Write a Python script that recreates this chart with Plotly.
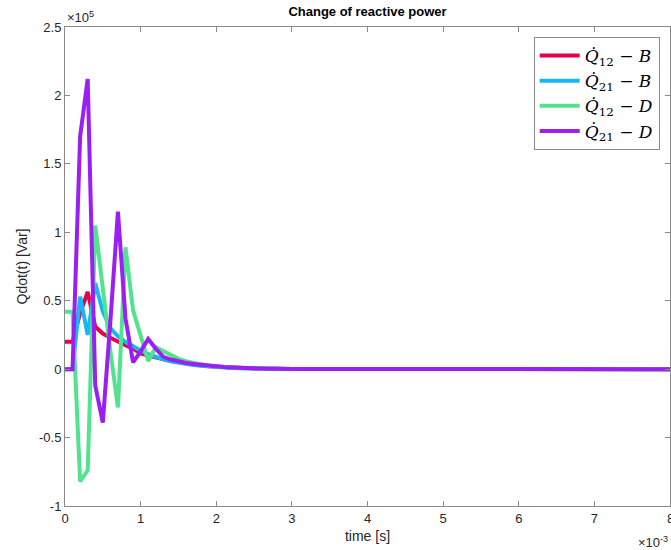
import plotly.graph_objects as go

# time in units of 1e-3 s, reactive power in units of 1e5 Var
t_ms = [0.0, 0.1, 0.2, 0.3, 0.4, 0.5, 0.6, 0.7, 0.8, 0.9, 1.0,
        1.1, 1.2, 1.3, 1.4, 1.5, 1.6, 1.7, 1.8, 1.9, 2.0,
        2.1, 2.2, 2.3, 2.4, 2.5, 2.6, 2.7, 2.8, 2.9, 3.0, 8.0]

q12_B = [0.20, 0.20, 0.41, 0.565, 0.31, 0.26, 0.23, 0.20, 0.175, 0.15, 0.115,
         0.10, 0.085, 0.072, 0.06, 0.05, 0.04, 0.033, 0.027, 0.022, 0.018,
         0.014, 0.011, 0.009, 0.007, 0.005, 0.004, 0.003, 0.002, 0.0015, 0.001, 0.0]

q21_B = [0.0, 0.0, 0.53, 0.25, 0.63, 0.42, 0.30, 0.24, 0.20, 0.165, 0.135,
         0.11, 0.09, 0.072, 0.058, 0.047, 0.038, 0.030, 0.024, 0.019, 0.015,
         0.012, 0.009, 0.007, 0.005, 0.004, 0.003, 0.002, 0.0015, 0.001, 0.0008, 0.0]

q12_D = [0.42, 0.42, -0.82, -0.74, 1.05, 0.57, 0.13, -0.28, 0.89, 0.43, 0.25,
         0.06, 0.16, 0.13, 0.10, 0.075, 0.058, 0.045, 0.035, 0.027, 0.020,
         0.015, 0.012, 0.009, 0.007, 0.005, 0.004, 0.003, 0.002, 0.0015, 0.001, 0.0]

q21_D = [0.0, 0.0, 1.70, 2.12, -0.12, -0.39, 0.35, 1.15, 0.37, 0.05, 0.13,
         0.22, 0.15, 0.09, 0.07, 0.055, 0.045, 0.037, 0.030, 0.024, 0.019,
         0.015, 0.012, 0.009, 0.007, 0.005, 0.004, 0.003, 0.002, 0.0015, 0.001, 0.0]

names = ["<i>Q̇</i><sub>12</sub> − <i>B</i>",
         "<i>Q̇</i><sub>21</sub> − <i>B</i>",
         "<i>Q̇</i><sub>12</sub> − <i>D</i>",
         "<i>Q̇</i><sub>21</sub> − <i>D</i>"]
series = [q12_B, q21_B, q12_D, q21_D]
colors = ["#E6004D", "#14B8F5", "#52E38E", "#9B1EF2"]

x_ticks = [0, 1, 2, 3, 4, 5, 6, 7, 8]
y_ticks = [-1, -0.5, 0, 0.5, 1, 1.5, 2, 2.5]

font_sans = "Liberation Sans, Arial"

fig = go.Figure()
for y, n, c in zip(series, names, colors):
    fig.add_trace(go.Scatter(x=t_ms, y=y, mode="lines", name=n,
                             line=dict(color=c, width=4)))

axis_common = dict(showgrid=False, zeroline=False, showline=True, mirror="ticks",
                   linecolor="#8a8a8a", linewidth=1, ticks="inside", ticklen=5,
                   tickcolor="#8a8a8a", tickfont=dict(family=font_sans, size=13, color="#262626"))

annotations = [
    dict(text="×10<sup>5</sup>", xref="paper", yref="paper", x=0.0, y=1.0,
         xanchor="left", yanchor="bottom", showarrow=False,
         font=dict(family=font_sans, size=13, color="#262626")),
    dict(text="×10<sup>-3</sup>", xref="paper", yref="paper", x=1.0, y=-0.055,
         xanchor="right", yanchor="top", showarrow=False,
         font=dict(family=font_sans, size=13, color="#262626")),
    # last x tick label (clipped at the window edge, as in the reference)
    dict(text=str(x_ticks[-1]), xref="x", yref="paper", x=x_ticks[-1], y=0,
         xanchor="center", yanchor="top", yshift=-3, showarrow=False,
         font=dict(family=font_sans, size=13, color="#262626")),
]

fig.update_layout(
    width=671, height=550,
    margin=dict(l=65, r=1, t=27, b=44),
    paper_bgcolor="white", plot_bgcolor="white",
    title=dict(text="<b>Change of reactive power</b>", x=0.5, xanchor="center", xref="paper",
               y=0.988, yanchor="top",
               font=dict(family=font_sans, size=13, color="black")),
    xaxis=dict(range=[0, 8], tickvals=x_ticks, ticktext=[str(v) for v in x_ticks],
               title=dict(text="time [s]", standoff=6,
                          font=dict(family=font_sans, size=14, color="#262626")),
               **axis_common),
    yaxis=dict(range=[-1, 2.5], tickvals=y_ticks, ticktext=[f"{v:g}" for v in y_ticks],
               title=dict(text="Qdot(t) [Var]", standoff=8,
                          font=dict(family=font_sans, size=14, color="#262626")),
               **axis_common),
    legend=dict(x=0.983, y=0.979, xanchor="right", yanchor="top",
                bgcolor="white", bordercolor="#8a8a8a", borderwidth=1,
                font=dict(family="DejaVu Serif, Liberation Serif", size=17, color="black"),
                tracegroupgap=0, itemwidth=40),
    showlegend=True,
    annotations=annotations,
)

fig.write_html("out.html")
